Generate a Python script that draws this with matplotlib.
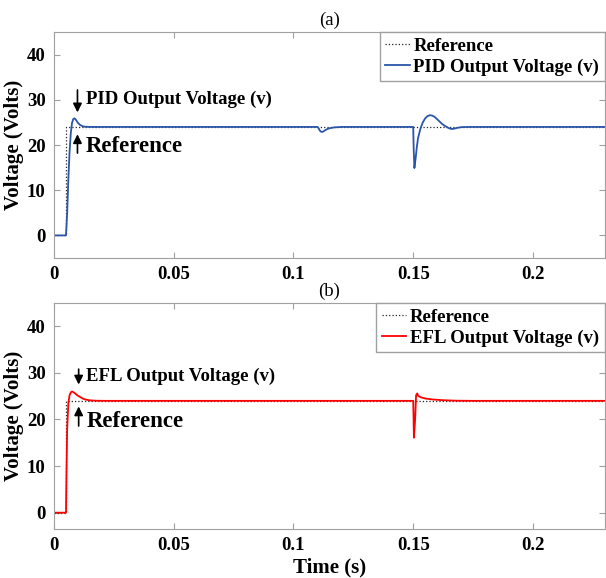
import numpy as np
import matplotlib
matplotlib.use("Agg")
import matplotlib.pyplot as plt
from matplotlib import rc

rc('font', **{'family': 'serif', 'serif': ['Liberation Serif', 'DejaVu Serif']})

# reference step
ref_t = [0, 0.005, 0.005, 0.23]
ref_v = [0, 0, 24, 24]

# PID output
pid_t = [0, 0.005, 0.0055, 0.006, 0.0065, 0.007, 0.0075, 0.008, 0.0085, 0.009,
         0.0095, 0.010, 0.011, 0.012, 0.013, 0.015, 0.110, 0.1105, 0.111, 0.1115,
         0.112, 0.1125, 0.113, 0.114, 0.115, 0.117, 0.120, 0.150, 0.1502, 0.1505,
         0.1510, 0.1515, 0.152, 0.153, 0.154, 0.155, 0.156, 0.157, 0.158, 0.159,
         0.160, 0.161, 0.162, 0.163, 0.164, 0.165, 0.166, 0.167, 0.168, 0.170,
         0.173, 0.23]
pid_v = [0, 0, 5, 12.5, 18.5, 22.5, 24.8, 25.7, 25.9, 25.7,
         25.3, 24.9, 24.4, 24.15, 24.05, 24, 24, 23.7, 23.2, 22.95,
         22.9, 23.0, 23.2, 23.5, 23.7, 23.9, 24, 24, 19, 14.9,
         17, 19.5, 21.5, 23.6, 25.0, 25.9, 26.4, 26.6, 26.5, 26.2,
         25.7, 25.2, 24.7, 24.3, 24.0, 23.7, 23.55, 23.6, 23.75, 23.95,
         24, 24]

# EFL output
efl_t = [0, 0.005, 0.0052, 0.0055, 0.006, 0.0065, 0.007, 0.0075, 0.008, 0.009,
         0.010, 0.011, 0.012, 0.013, 0.015, 0.018, 0.022, 0.150, 0.1503, 0.1508,
         0.1512, 0.1517, 0.152, 0.153, 0.155, 0.158, 0.162, 0.168, 0.175, 0.23]
efl_v = [0, 0, 8, 18, 23.5, 25.2, 25.8, 26.0, 25.9, 25.5,
         25.1, 24.8, 24.5, 24.3, 24.1, 24.02, 24, 24, 16.1, 20,
         25.2, 25.6, 25.1, 24.8, 24.5, 24.3, 24.15, 24.03, 24, 24]

xticks = [0, 0.05, 0.1, 0.15, 0.2]
xticklabels = ['0', '0.05', '0.1', '0.15', '0.2']
yticks = [0, 10, 20, 30, 40]

fig = plt.figure(figsize=(6.06, 5.78), dpi=100)
ax1 = fig.add_axes([0.0891, 0.5536, 0.9089, 0.391])
ax2 = fig.add_axes([0.0891, 0.0848, 0.9089, 0.391])

blue = '#2a55aa'
red = '#ff0000'

def style(ax, ylim, title):
    ax.set_xlim(0, 0.23)
    ax.set_ylim(*ylim)
    ax.set_xticks(xticks)
    ax.set_xticklabels(xticklabels)
    ax.set_yticks(yticks)
    for s in ax.spines.values():
        s.set_color('#a0a0a0')
        s.set_linewidth(0.8)
    ax.tick_params(which='both', direction='in', color='#a0a0a0', length=4,
                   top=True, right=True, labelsize=13.5, pad=6)
    for lab in ax.get_xticklabels() + ax.get_yticklabels():
        lab.set_fontweight('bold')
    ax.set_ylabel('Voltage (Volts)', fontsize=15, fontweight='bold', labelpad=2)
    ax.set_title(title, fontsize=13.5, pad=5)

legend_kw = dict(loc='upper right', prop={'weight': 'bold', 'size': 13.5},
                 fancybox=False, edgecolor='#a0a0a0', framealpha=1, borderaxespad=0,
                 handlelength=1.3, handletextpad=0.2, borderpad=0.3, labelspacing=0.2)

# (a)
ax1.plot(ref_t, ref_v, ls=':', color='#222222', lw=0.9, label='Reference')
ax1.plot(pid_t, pid_v, ls='-', color=blue, lw=1.3, label='PID Output Voltage (v)')
style(ax1, (-5, 45), '(a)')
ax1.annotate('', xy=(0.0098, 26.6), xytext=(0.0098, 32.8),
             arrowprops=dict(arrowstyle='-|>', color='k', lw=1.2, mutation_scale=13))
ax1.annotate('', xy=(0.0098, 23.0), xytext=(0.0098, 17.6),
             arrowprops=dict(arrowstyle='-|>', color='k', lw=1.2, mutation_scale=13))
ax1.text(0.0133, 30.2, 'PID Output Voltage (v)', fontsize=13.5, fontweight='bold', va='center')
ax1.text(0.0133, 19.6, 'Reference', fontsize=16.5, fontweight='bold', va='center')
ax1.legend(**legend_kw)

# (b)
ax2.plot(ref_t, ref_v, ls=':', color='#222222', lw=0.9, label='Reference')
ax2.plot(efl_t, efl_v, ls='-', color=red, lw=1.3, label='EFL Output Voltage (v)')
style(ax2, (-3.5, 45), '(b)')
ax2.annotate('', xy=(0.0103, 26.9), xytext=(0.0103, 31.4),
             arrowprops=dict(arrowstyle='-|>', color='k', lw=1.2, mutation_scale=13))
ax2.annotate('', xy=(0.0103, 23.4), xytext=(0.0103, 18.0),
             arrowprops=dict(arrowstyle='-|>', color='k', lw=1.2, mutation_scale=13))
ax2.text(0.0135, 29.3, 'EFL Output Voltage (v)', fontsize=13.5, fontweight='bold', va='center')
ax2.text(0.0135, 19.6, 'Reference', fontsize=16.5, fontweight='bold', va='center')
ax2.legend(**legend_kw)
ax2.set_xlabel('Time (s)', fontsize=15, fontweight='bold', labelpad=2)

fig.savefig('out.png', dpi=100)
